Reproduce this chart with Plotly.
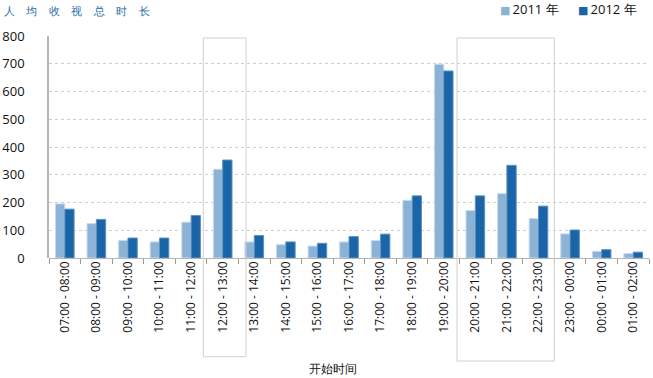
import plotly.graph_objects as go

categories = ["07:00 - 08:00", "08:00 - 09:00", "09:00 - 10:00", "10:00 - 11:00",
              "11:00 - 12:00", "12:00 - 13:00", "13:00 - 14:00", "14:00 - 15:00",
              "15:00 - 16:00", "16:00 - 17:00", "17:00 - 18:00", "18:00 - 19:00",
              "19:00 - 20:00", "20:00 - 21:00", "21:00 - 22:00", "22:00 - 23:00",
              "23:00 - 00:00", "00:00 - 01:00", "01:00 - 02:00"]
values_2011 = [195, 124, 63, 58, 129, 320, 58, 48, 43, 58, 63, 208, 698, 171, 232, 142, 87, 24, 16]
values_2012 = [176, 139, 72, 72, 153, 353, 81, 58, 53, 77, 86, 224, 674, 224, 334, 187, 101, 30, 21]
y_ticks = [0, 100, 200, 300, 400, 500, 600, 700, 800]
series_names = ["2011 年", "2012 年"]
chart_title = "人 均 收 视 总 时 长"
x_title = "开始时间"

FONT = "Open Sans, DejaVu Sans, sans-serif"
C2011 = "#8cb3d6"
C2012 = "#1a65a8"
colors = [C2011, C2012]

fig = go.Figure()
fig.add_trace(go.Bar(x=categories, y=values_2011, name=series_names[0], showlegend=False,
                     marker=dict(color=C2011, line=dict(color="#c6dbee", width=1))))
fig.add_trace(go.Bar(x=categories, y=values_2012, name=series_names[1], showlegend=False,
                     marker=dict(color=C2012, line=dict(color="#5d92c4", width=1))))

L, R, T, B = 49, 4, 36, 120
W, H = 653, 378
pw, ph = W - L - R, H - T - B

def px_x(p):
    return (p - L) / pw

def px_y(p):
    return (H - B - p) / ph

fig.update_layout(
    width=W, height=H,
    margin=dict(l=L, r=R, t=T, b=B, pad=0, autoexpand=False),
    paper_bgcolor="white", plot_bgcolor="white",
    barmode="group", bargap=0.41, bargroupgap=0.0,
    font=dict(family=FONT, size=12, color="#111"),
    showlegend=False,
    xaxis=dict(type="category", showgrid=False, showline=False, automargin=False,
               ticks="outside", ticklen=5, tickcolor="#999", tickwidth=1,
               tickson="boundaries", tickangle=-90, tickfont=dict(size=12, color="#111"),
               zeroline=False),
    yaxis=dict(range=[0, 800], tickvals=y_ticks, showgrid=True, gridcolor="#cfcfcf",
               griddash="3px,3px", gridwidth=1, showline=True, linecolor="#b5b5b5",
               linewidth=1.5, zeroline=True, zerolinecolor="#b5b5b5", zerolinewidth=1,
               automargin=False,
               ticks="", tickfont=dict(size=13, color="#111"), ticklabelstandoff=20),
)

# title
fig.add_annotation(text=chart_title.replace(" ", "\u00a0\u00a0\u00a0\u00a0"), xref="paper", yref="paper",
                   x=px_x(2), y=px_y(1), xanchor="left", yanchor="top", showarrow=False,
                   font=dict(size=11, color="#2a6ca8", family=FONT))
# legend (as text)
for name, col, xpos in zip(series_names, colors, [498, 576]):
    fig.add_annotation(text=f"<span style='color:{col};font-size:11px'>■</span>\u2009{name}",
                       xref="paper", yref="paper",
                       x=px_x(xpos), y=px_y(9), xanchor="left", yanchor="middle", showarrow=False,
                       font=dict(size=13, color="#111", family=FONT))
# x axis title
fig.add_annotation(text=x_title, xref="paper", yref="paper", x=px_x(333), y=px_y(368),
                   xanchor="center", yanchor="middle", showarrow=False,
                   font=dict(size=12, color="#111", family=FONT))

# highlight boxes
for x0, x1, y1 in [(203.3, 246, 356.7), (457, 554.3, 361)]:
    fig.add_shape(type="rect", xref="paper", yref="paper",
                  x0=px_x(x0), x1=px_x(x1), y0=px_y(y1), y1=px_y(38),
                  line=dict(color="#d0d0d0", width=1), fillcolor="rgba(0,0,0,0)", layer="above")

fig.write_html("out.html", config={"displayModeBar": False},
               post_script="document.body.style.margin='0';")
